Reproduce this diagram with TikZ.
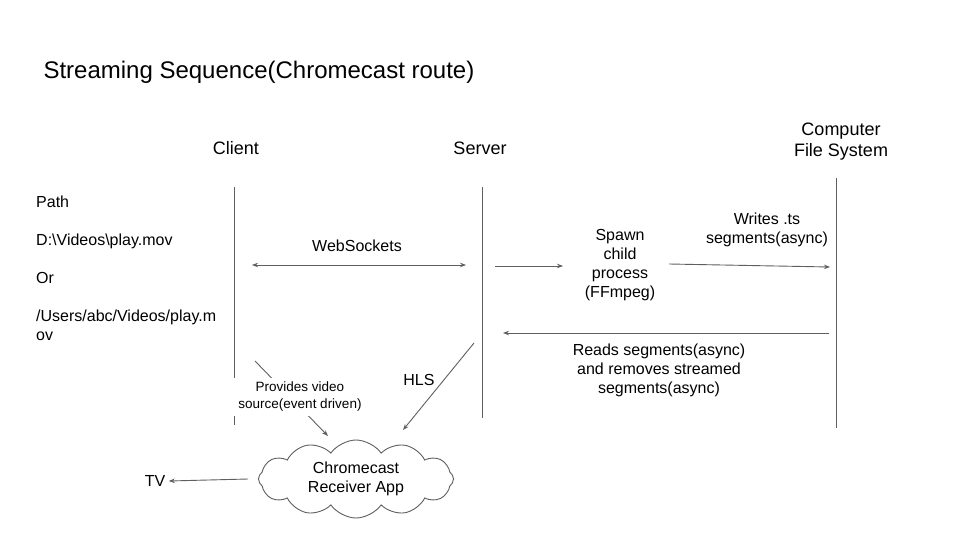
\documentclass[tikz,border=0pt]{standalone}
\usepackage{fontspec}
\setmainfont{Liberation Sans}
\usetikzlibrary{arrows.meta,shapes.symbols}

\definecolor{linegray}{HTML}{5F5F5F}

\tikzset{
  actor/.style = {font=\fontsize{18}{21}\selectfont, align=center},
  lbl/.style = {font=\fontsize{16}{19}\selectfont, align=center},
  small/.style = {font=\fontsize{13.5}{17}\selectfont, align=center},
  life/.style = {draw=linegray, line width=0.9pt},
  msg/.style = {draw=linegray, line width=0.9pt, -{Stealth[length=6pt,width=4.5pt]}},
  dmsg/.style = {draw=linegray, line width=0.9pt, {Stealth[length=6pt,width=4.5pt]}-{Stealth[length=6pt,width=4.5pt]}},
}

\begin{document}
\begin{tikzpicture}[x=1pt, y=-1pt]
  \useasboundingbox[fill=white] (0,0) rectangle (960,540);

  % title and participants
  \node[anchor=west, font=\fontsize{24}{28}\selectfont] (title) at (40,72) {Streaming Sequence(Chromecast route)};
  \node[actor] (client) at (236,148) {Client};
  \node[actor] (server) at (480,148) {Server};
  \node[actor] (files) at (841,142) {Computer\\File System};

  % lifelines
  \coordinate (cl_top) at (234,187);
  \coordinate (cl_bot) at (234,425);
  \coordinate (sv_top) at (482,187);
  \coordinate (sv_bot) at (482,418);
  \coordinate (fs_top) at (836,178);
  \coordinate (fs_bot) at (836,428);
  \draw[life] (cl_top) -- (cl_bot);
  \draw[life] (sv_top) -- (sv_bot);
  \draw[life] (fs_top) -- (fs_bot);

  % path text
  \node[lbl, align=left, anchor=north west, inner sep=0pt] (path) at (36,196)
    {Path\\[19pt]D:\textbackslash Videos\textbackslash play.mov\\[19pt]Or\\[19pt]/Users/abc/Videos/play.m\\ov};

  % websockets
  \coordinate (ws_l) at (252,265);
  \coordinate (ws_r) at (466,265);
  \draw[dmsg] (ws_l) -- (ws_r);
  \node[lbl] (ws) at (357,246) {WebSockets};

  % spawn ffmpeg
  \node[lbl] (spawn) at (620,265) {Spawn\\child\\process\\(FFmpeg)};
  \coordinate (sp_out) at (495,266);
  \coordinate (sp_in) at (563,266);
  \draw[msg] (sp_out) -- (sp_in);

  \coordinate (wr_l) at (669,264);
  \coordinate (wr_r) at (830,267);
  \draw[msg] (wr_l) -- (wr_r);
  \node[lbl] (writes) at (767,230) {Writes .ts\\segments(async)};

  \coordinate (rd_r) at (829,333);
  \coordinate (rd_l) at (503,333);
  \draw[msg] (rd_r) -- (rd_l);
  \node[lbl] (reads) at (659,370) {Reads segments(async)\\and removes streamed\\segments(async)};

  % chromecast
  \node[lbl, cloud, draw=linegray, line width=0.9pt, cloud puffs=12, cloud puff arc=110,
        aspect=2.5, minimum width=195pt, minimum height=78pt] (cc) at (356,479)
    {Chromecast\\Receiver App};
  \node[lbl] (tv) at (155,481) {TV};
  \draw[msg] ([xshift=-10pt]cc.west) -- (tv.east);

  \coordinate (hls_s) at (474,343);
  \coordinate (hls_e) at (403,430);
  \draw[msg] (hls_s) -- (hls_e);
  \node[lbl] (hls) at (419,380) {HLS};

  \coordinate (pv_s) at (255,361);
  \coordinate (pv_e) at (328,436);
  \draw[msg] (pv_s) -- (pv_e);
  \node[small, fill=white, inner xsep=7pt, inner ysep=4pt] (provides) at (300,397)
    {Provides video\\source(event driven)};
\end{tikzpicture}
\end{document}
